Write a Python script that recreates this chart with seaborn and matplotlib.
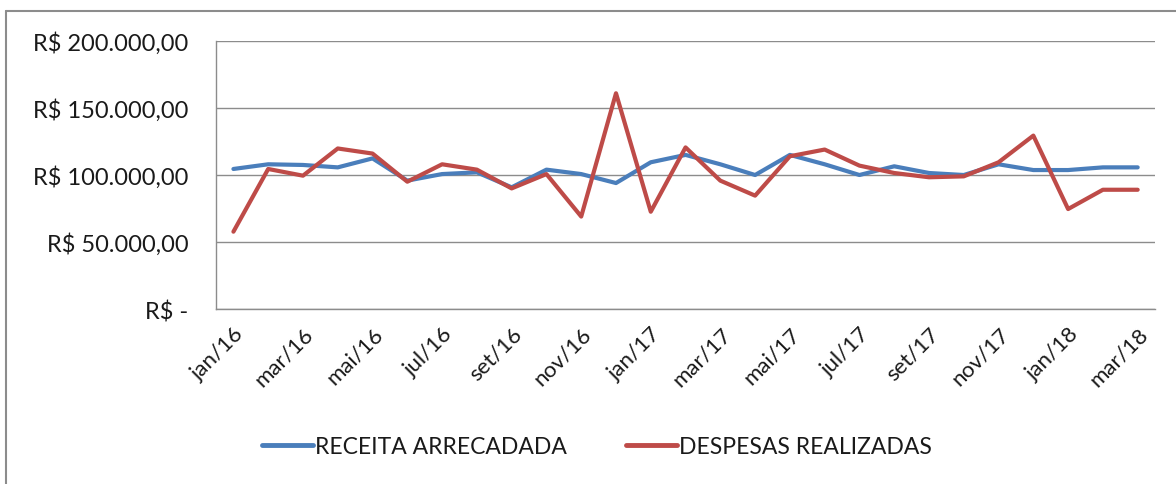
import matplotlib
matplotlib.use("Agg")
from matplotlib import pyplot as plt
from matplotlib.ticker import FuncFormatter, FixedLocator
import seaborn as sns
import pandas as pd
import numpy as np

sns.set_style("white")
plt.rcParams['font.family'] = ['Lato', 'DejaVu Sans']

meses = ['jan/16', 'fev/16', 'mar/16', 'abr/16', 'mai/16', 'jun/16', 'jul/16', 'ago/16',
         'set/16', 'out/16', 'nov/16', 'dez/16', 'jan/17', 'fev/17', 'mar/17', 'abr/17',
         'mai/17', 'jun/17', 'jul/17', 'ago/17', 'set/17', 'out/17', 'nov/17', 'dez/17',
         'jan/18', 'fev/18', 'mar/18']

receita = [104500, 108000, 107500, 105700, 112400, 95800, 100700, 102000, 90800, 104000,
           100700, 94000, 109500, 115000, 108000, 100000, 115000, 108000, 100000, 106500,
           101500, 100000, 108000, 103700, 103700, 105700, 105700]

despesas = [57700, 104500, 99500, 119800, 116000, 95000, 108000, 104000, 90000, 100700,
            69000, 161000, 72600, 120600, 95800, 84600, 114000, 119000, 107000, 101500,
            98300, 99000, 109500, 129400, 74600, 89000, 89000]

series = ['RECEITA ARRECADADA', 'DESPESAS REALIZADAS']
cores = ['#4A7EBB', '#BE4B48']

df = pd.DataFrame({
    'idx': list(range(len(meses))) * 2,
    'valor': receita + despesas,
    'serie': [series[0]] * len(meses) + [series[1]] * len(meses),
})

fig = plt.figure(figsize=(11.76, 4.85), dpi=100)
ax = fig.add_axes([0.1837, 0.3608, 0.7985, 0.5526])

sns.lineplot(data=df, x='idx', y='valor', hue='serie', palette=cores,
             linewidth=3, ax=ax, legend=False)

# border of the chart area (top and left only visible)
fig.add_artist(plt.Line2D([6 / 1176, 1], [1 - 12 / 485, 1 - 12 / 485], color='#8c8c8c', lw=1.5,
                          transform=fig.transFigure))
fig.add_artist(plt.Line2D([6 / 1176, 6 / 1176], [0, 1 - 12 / 485], color='#8c8c8c', lw=1.5,
                          transform=fig.transFigure))

def reais(v, pos):
    if v == 0:
        return 'R$ -'
    return 'R$ ' + f'{v:,.2f}'.replace(',', 'X').replace('.', ',').replace('X', '.')

n = len(meses)
ax.set_xlim(-0.5, n - 0.5)
ax.set_ylim(0, 200000)
ax.set_yticks(np.arange(0, 200001, 50000))
ax.yaxis.set_major_formatter(FuncFormatter(reais))
ax.grid(axis='y', color='#8c8c8c', lw=1)

ax.xaxis.set_major_locator(FixedLocator(np.arange(-0.5, n - 1, 2)))
ax.xaxis.set_minor_locator(FixedLocator(np.arange(0, n, 2)))
ax.set_xticklabels([], minor=False)
ax.set_xticklabels(meses[::2], minor=True, rotation=45, ha='right', rotation_mode='anchor')
ax.tick_params(axis='x', which='major', length=8, width=1, color='#8c8c8c', direction='out')
ax.tick_params(axis='x', which='minor', length=0, pad=10, labelsize=16, labelcolor='#1a1a1a')
ax.tick_params(axis='y', length=8, width=1, color='#8c8c8c', direction='out', pad=12,
               labelsize=17, labelcolor='#1a1a1a')
ax.set_xlabel('')
ax.set_ylabel('')

for s in ['top', 'right']:
    ax.spines[s].set_visible(False)
for s in ['left', 'bottom']:
    ax.spines[s].set_color('#8c8c8c')
    ax.spines[s].set_linewidth(1)

handles = [plt.Line2D([], [], color=c, lw=3.5, solid_capstyle='round') for c in cores]
fig.legend(handles, series, loc='center', bbox_to_anchor=(597 / 1176, 1 - 448 / 485),
           ncol=2, frameon=False, fontsize=16.5, handlelength=2.2, handletextpad=0.1,
           columnspacing=2.6, labelcolor='#1a1a1a')

fig.savefig('out.png', dpi=100)
